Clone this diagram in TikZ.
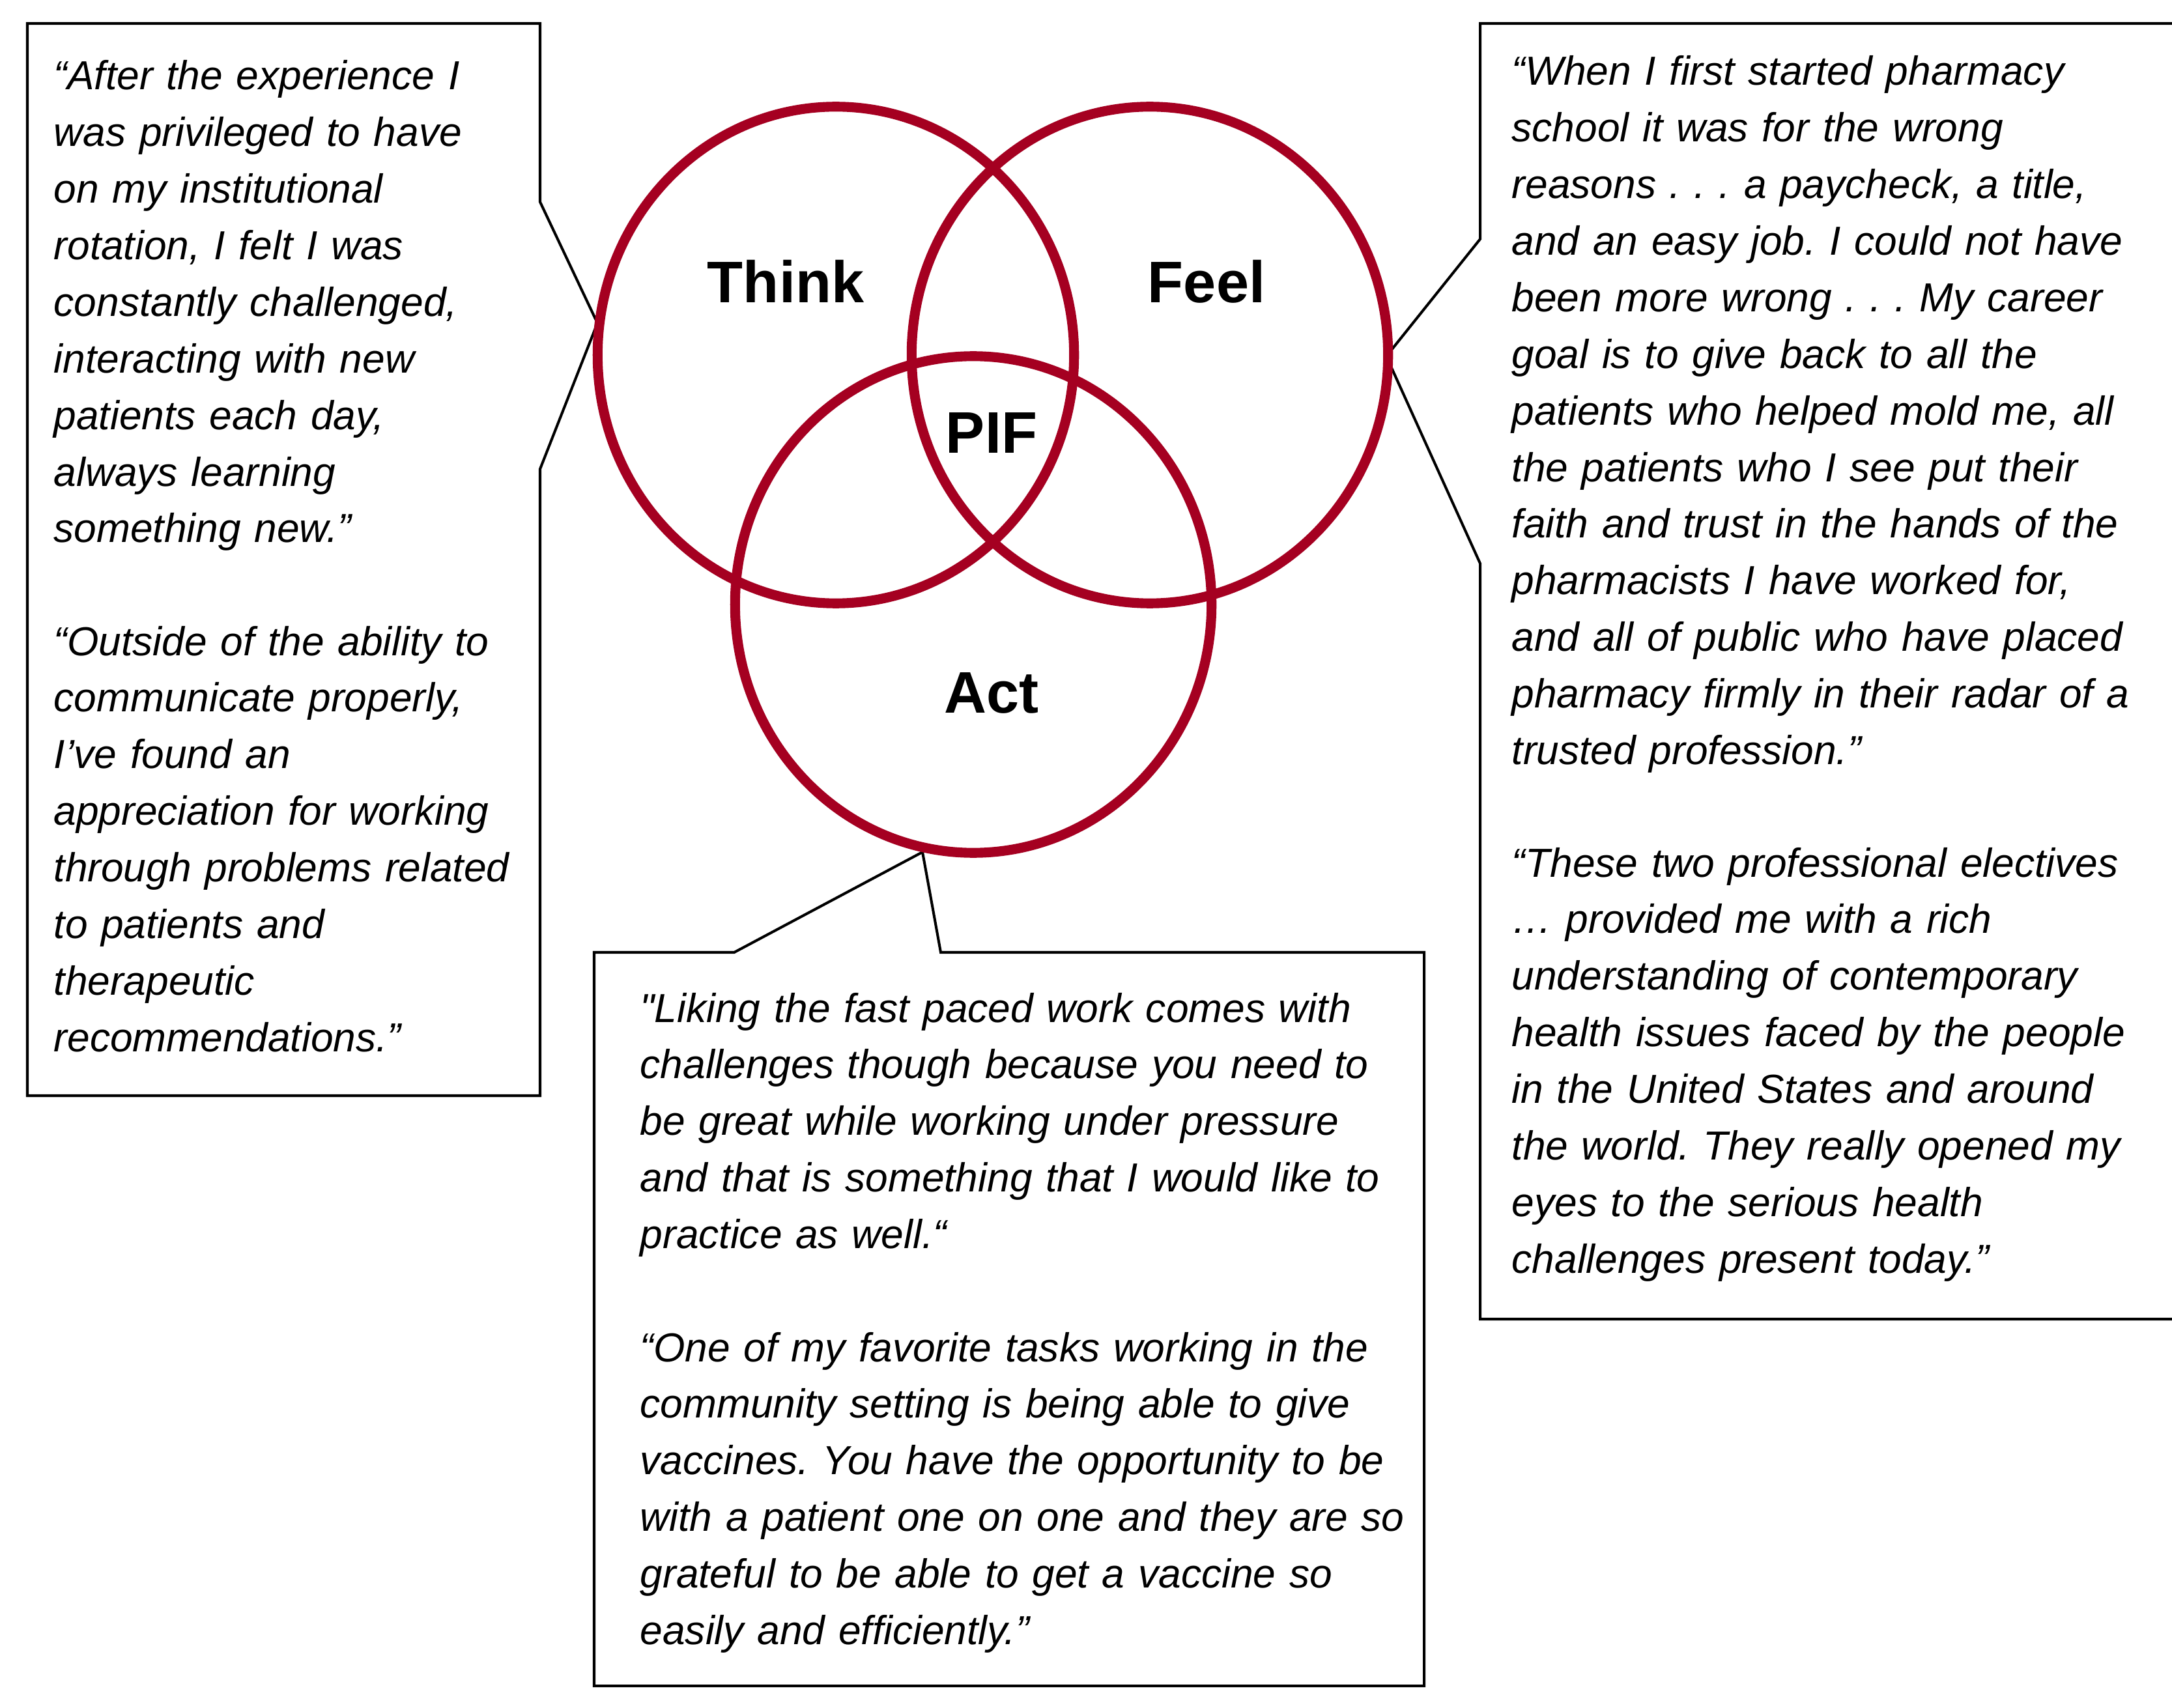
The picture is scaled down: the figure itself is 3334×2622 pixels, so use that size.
\documentclass[tikz,border=0pt]{standalone}
\usepackage{fontspec}
\newfontfamily\arialfont{Liberation Sans}
\usetikzlibrary{shapes.geometric}
\definecolor{ringred}{RGB}{165,0,33}
\frenchspacing

\begin{document}
\begin{tikzpicture}
    [x=0.01cm,y=-0.01cm,
     ring/.style={draw=ringred, line width=4.3pt, ellipse, inner sep=0pt, minimum width=7.31cm, minimum height=7.62cm},
     word/.style={inner sep=0pt, font=\arialfont\bfseries\fontsize{25.6}{30}\selectfont},
     quote/.style={anchor=base west, inner sep=0pt, align=left, text width=13cm, font=\arialfont\itshape\fontsize{17.7}{24.7}\selectfont},
     callout/.style={draw=black, line width=1.15pt, line join=miter}]
  \path[use as bounding box, fill=white] (0,0) rectangle (3334,2622);

  % tips of the three callouts
  \coordinate (thinktip) at (917,496);
  \coordinate (feeltip) at (2128,547);
  \coordinate (acttip) at (1416,1308);

  \draw[callout] (42,36) -- (829,36) -- (829,310) -- (thinktip) -- (829,720) -- (829,1682) -- (42,1682) -- cycle;
  \draw[callout] (3400,36) -- (2272,36) -- (2272,367) -- (feeltip) -- (2272,865) -- (2272,2025) -- (3400,2025);
  \draw[callout] (912,1462) -- (1127,1462) -- (acttip) -- (1444,1462) -- (2186,1462) -- (2186,2588) -- (912,2588) -- cycle;

  \foreach \name/\x/\y in {think/1283/545, feel/1765/545, act/1494/928}
    \node[ring] (\name) at (\x,\y) {};

  \foreach \name/\x/\y/\word in {thinkword/1206/432/Think, feelword/1852/432/Feel, pifword/1522/665/PIF, actword/1522/1064/Act}
    \node[word] (\name) at (\x,\y) {\word};

  \node[quote] (leftA) at (82,138) {“After the experience I\\ was privileged to have\\ on my institutional\\ rotation, I felt I was\\ constantly challenged,\\ interacting with new\\ patients each day,\\ always learning\\ something new.”};
  \node[quote] (leftB) at (82,1006) {“Outside of the ability to\\ communicate properly,\\ I’ve found an\\ appreciation for working\\ through problems related\\ to patients and\\ therapeutic\\ recommendations.”};

  \node[quote] (rightA) at (2320,131) {“When I first started pharmacy\\ school it was for the wrong\\ reasons . . . a paycheck, a title,\\ and an easy job. I could not have\\ been more wrong . . . My career\\ goal is to give back to all the\\ patients who helped mold me, all\\ the patients who I see put their\\ faith and trust in the hands of the\\ pharmacists I have worked for,\\ and all of public who have placed\\ pharmacy firmly in their radar of a\\ trusted profession.”};
  \node[quote] (rightB) at (2320,1346) {“These two professional electives\\ … provided me with a rich\\ understanding of contemporary\\ health issues faced by the people\\ in the United States and around\\ the world. They really opened my\\ eyes to the serious health\\ challenges present today.”};

  \node[quote] (bottomA) at (982,1569) {"Liking the fast paced work comes with\\ challenges though because you need to\\ be great while working under pressure\\ and that is something that I would like to\\ practice as well.“};
  \node[quote] (bottomB) at (982,2090) {“One of my favorite tasks working in the\\ community setting is being able to give\\ vaccines. You have the opportunity to be\\ with a patient one on one and they are so\\ grateful to be able to get a vaccine so\\ easily and efficiently.”};
\end{tikzpicture}
\end{document}
